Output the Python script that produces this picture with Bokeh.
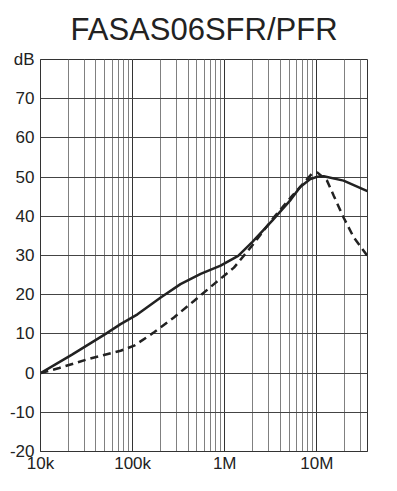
from bokeh.plotting import figure
from bokeh.embed import file_html
from bokeh.resources import INLINE
from bokeh.models import FixedTicker, LogTicker

# data
freq_solid = [1e4, 2.2e4, 5.1e4, 7.4e4, 1.13e5, 2.02e5, 3.31e5, 5.48e5, 9.02e5, 1.4e6, 2e6,
              3.28e6, 5.2e6, 6.6e6, 8.5e6, 1.01e7, 1.19e7, 1.95e7, 3.54e7]
db_solid = [0, 4.7, 10.0, 12.5, 15.0, 19.3, 22.7, 25.3, 27.4, 29.9, 33.5,
            38.9, 44.2, 47.5, 49.5, 50.1, 50.2, 49.1, 46.4]

freq_dash = [1e4, 1.6e4, 3.3e4, 7.4e4, 1.04e5, 1.71e5, 2.81e5, 4.63e5, 7.64e5, 1.26e6, 2e6,
             3.4e6, 5.4e6, 8.8e6, 1.01e7, 1.29e7, 1.53e7, 1.95e7, 2.52e7, 3.54e7]
db_dash = [0, 1.3, 3.6, 5.7, 7.0, 10.4, 14.2, 18.4, 22.7, 26.9, 32.6,
           39.7, 45.2, 50.8, 51.2, 49.1, 45.2, 39.7, 34.6, 29.9]

x_ticks = [1e4, 1e5, 1e6, 1e7]
x_labels = ["10k", "100k", "1M", "10M"]
y_ticks = [-20, -10, 0, 10, 20, 30, 40, 50, 60, 70, 80]
y_labels = ["-20", "-10", "0", "10", "20", "30", "40", "50", "60", "70", "dB"]

FONT = "Liberation Sans"

p = figure(width=397, height=491, x_axis_type="log", output_backend="svg",
           toolbar_location=None, x_range=(1e4, 3.55e7), y_range=(-20, 80),
           title="FASAS06SFR/PFR", min_border_left=40, min_border_right=30,
           min_border_top=59, min_border_bottom=40)

p.title.align = "center"
p.title.text_font = FONT
p.title.text_font_size = "31px"
p.title.text_font_style = "normal"
p.title.text_color = "#222222"
p.title.text_line_height = 0.8
p.title.vertical_align = "top"
p.title.standoff = 22

p.xaxis.ticker = LogTicker(num_minor_ticks=10, desired_num_ticks=4)
p.xaxis.major_label_overrides = {t: l for t, l in zip(x_ticks, x_labels)}
p.yaxis.ticker = FixedTicker(ticks=y_ticks)
p.yaxis.major_label_overrides = {t: l for t, l in zip(y_ticks, y_labels)}

for ax in (p.xaxis, p.yaxis):
    ax.major_tick_out = 0
    ax.major_tick_in = 0
    ax.minor_tick_out = 0
    ax.minor_tick_in = 0
    ax.axis_line_color = "#333333"
    ax.major_label_text_font = FONT
    ax.major_label_text_color = "#222222"
p.xaxis.major_label_text_font_size = "17px"
p.yaxis.major_label_text_font_size = "17px"
p.xaxis.major_label_standoff = 2
p.yaxis.major_label_standoff = 6

p.xgrid.grid_line_color = "#333333"
p.xgrid.grid_line_alpha = 1
p.xgrid.minor_grid_line_color = "#808080"
p.ygrid.grid_line_color = "#444444"
p.ygrid.grid_line_alpha = 1
p.outline_line_color = "#333333"
p.outline_line_alpha = 1

p.line(freq_solid, db_solid, line_color="#222222", line_width=2.5)
p.line(freq_dash, db_dash, line_color="#222222", line_width=2.5, line_dash="8 5")

open("out.html", "w").write(file_html(p, INLINE))
